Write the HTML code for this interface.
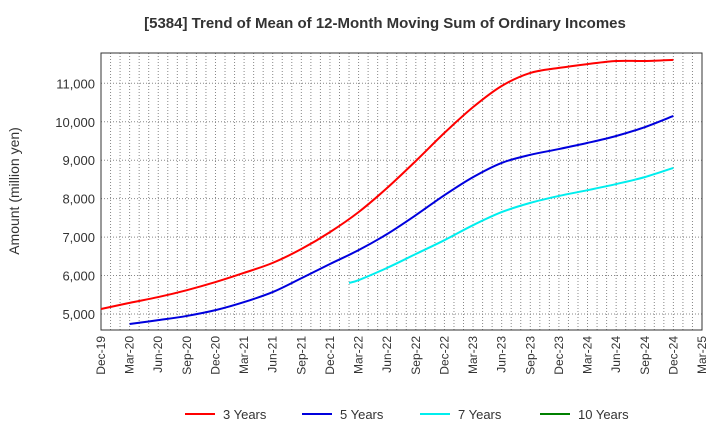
<!DOCTYPE html>
<html><head><meta charset="utf-8"><style>
body{margin:0;background:#fff;font-family:"Liberation Sans",sans-serif;}
</style></head><body>
<svg width="720" height="440" xmlns="http://www.w3.org/2000/svg" font-family="Liberation Sans, sans-serif">
<text x="385" y="28" text-anchor="middle" font-weight="bold" font-size="15" fill="#333">[5384]  Trend of Mean of 12-Month Moving Sum of Ordinary Incomes</text>
<g id="grid"></g>
<g id="axes"></g>
<g id="series"></g>
<text transform="translate(19,191) rotate(-90)" text-anchor="middle" font-size="14" fill="#333">Amount (million yen)</text>
<g id="legend"></g>
</svg>
<script>
const xLabels=["Dec-19","Mar-20","Jun-20","Sep-20","Dec-20","Mar-21","Jun-21","Sep-21","Dec-21","Mar-22","Jun-22","Sep-22","Dec-22","Mar-23","Jun-23","Sep-23","Dec-23","Mar-24","Jun-24","Sep-24","Dec-24","Mar-25"];
const yTicks=[5000,6000,7000,8000,9000,10000,11000];
const s3=[5130,5290,5440,5620,5830,6070,6330,6690,7130,7650,8280,8980,9710,10380,10930,11270,11400,11500,11580,11580,11610];
const s3Start=0;
const s5=[4740,4840,4950,5100,5310,5570,5930,6300,6660,7080,7570,8090,8560,8930,9140,9290,9450,9630,9860,10150];
const s5Start=3;
const s7=[5810,5880,6200,6560,6920,7310,7650,7890,8070,8220,8380,8560,8800];
const s7Start=26; // months from Dec-19 (Feb-22)
const s7Months=[26,27,30,33,36,39,42,45,48,51,54,57,60];
const L=101,R=702,T=53,B=330,yMin=4584,yMax=11788,nMonths=63;
const xm=m=>L+(R-L)*m/nMonths;
const y=v=>B-(v-yMin)/(yMax-yMin)*(B-T);
const NS="http://www.w3.org/2000/svg";
function mk(tag,attrs,parent){const e=document.createElementNS(NS,tag);for(const k in attrs)e.setAttribute(k,attrs[k]);document.getElementById(parent).appendChild(e);return e;}
for(let m=0;m<=nMonths;m++){const g=mk('line',{x1:xm(m),x2:xm(m),y1:T,y2:B,stroke:'#888','stroke-width':1,'stroke-dasharray':'1,2'},'grid');

}
yTicks.forEach(v=>{const g=mk('line',{x1:L,x2:R,y1:y(v),y2:y(v),stroke:'#888','stroke-width':1,'stroke-dasharray':'1,2'},'grid');


const t=mk('text',{x:L-6,y:y(v)+5,'text-anchor':'end','font-size':13,fill:'#333'},'axes');
t.textContent=v.toLocaleString('en-US');

});
const fr=mk('rect',{x:L,y:T,width:R-L,height:B-T,fill:'none',stroke:'#333','stroke-width':1},'axes');


xLabels.forEach((lab,i)=>{const x=xm(i*3);const t=mk('text',{transform:`translate(${x+4},${B+6}) rotate(-90)`,'text-anchor':'end','font-size':12,fill:'#333'},'axes');
t.textContent=lab;

});
function path(pts){let d=`M${pts[0][0]},${pts[0][1]}`;for(let i=0;i<pts.length-1;i++){const p0=pts[i-1]||pts[i],p1=pts[i],p2=pts[i+1],p3=pts[i+2]||p2;
d+=` C${p1[0]+(p2[0]-p0[0])/6},${p1[1]+(p2[1]-p0[1])/6} ${p2[0]-(p3[0]-p1[0])/6},${p2[1]-(p3[1]-p1[1])/6} ${p2[0]},${p2[1]}`;}return d;}
function draw(vals,months,color,name){const pts=vals.map((v,i)=>[xm(months[i]),y(v)]);const p=mk('path',{d:path(pts),fill:'none',stroke:color,'stroke-width':2},'series');

}
draw(s3,s3.map((_,i)=>s3Start+i*3),'#ff0000','line-3-years');
draw(s5,s5.map((_,i)=>s5Start+i*3),'#0000dd','line-5-years');
draw(s7,s7Months,'#00eeee','line-7-years');
const leg=[["3 Years","#ff0000",185],["5 Years","#0000dd",302],["7 Years","#00eeee",420],["10 Years","#008000",540]];
leg.forEach(([n,c,x])=>{const l=mk('line',{x1:x,x2:x+30,y1:414,y2:414,stroke:c,'stroke-width':2},'legend');


const t=mk('text',{x:x+38,y:419,'font-size':13,fill:'#333'},'legend');
t.textContent=n;

});
</script>
</body></html>
